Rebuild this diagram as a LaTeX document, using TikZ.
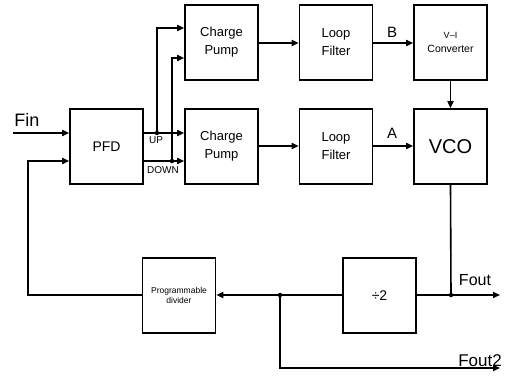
\documentclass[tikz,border=0pt]{standalone}
\usepackage{fontspec}
\setmainfont{Liberation Sans}
\usetikzlibrary{arrows.meta}
\tikzset{
  blk/.style={draw, line width=1.6pt, minimum width=73pt, minimum height=75pt, inner sep=0pt, align=center, font=\fontsize{13}{18}\selectfont},
  wire/.style={line width=1.6pt},
  arr/.style={wire, -{Triangle[length=7pt,width=6pt]}},
  dot/.style={circle, fill, inner sep=0pt, minimum size=4.5pt},
  lbl/.style={inner sep=0pt}
}
\begin{document}
\begin{tikzpicture}[x=1pt,y=-1pt]
\useasboundingbox (0,0) rectangle (517,382);
% blocks
\node[blk, font=\fontsize{14}{16}\selectfont] (pfd) at (106.5,146.5) {PFD};
\node[blk] (cpu) at (221.5,42.5) {Charge\\Pump};
\node[blk] (lfu) at (336,42.5) {Loop\\Filter};
\node[blk, font=\fontsize{10.5}{14}\selectfont] (vi)  at (450.5,42.5) {{\fontsize{9}{9}\selectfont V--I}\\Converter};
\node[blk] (cpl) at (221.5,146.5) {Charge\\Pump};
\node[blk] (lfl) at (336,146.5) {Loop\\Filter};
\node[blk, font=\fontsize{20}{22}\selectfont] (vco) at (450.5,146.5) {VCO};
\node[blk, font=\fontsize{14}{15}\selectfont] (div2) at (379.5,295.5) {÷2};
\node[blk, font=\fontsize{8.5}{10}\selectfont] (prog) at (179,295.5) {Programmable\\divider};
% coordinates
\coordinate (finL) at (13,133);
\coordinate (upy) at (0,133);
\coordinate (dny) at (0,161);
\coordinate (jup) at (157,133);
\coordinate (jdn) at (172,161);
\coordinate (cupy) at (0,28);
\coordinate (cdny) at (0,58);
\coordinate (cpy) at (0,43);
\coordinate (lpy) at (0,146);
\coordinate (jfout) at (451,295);
\coordinate (foutE) at (500,295);
\coordinate (jf2) at (280,295);
\coordinate (f2c) at (280,368);
\coordinate (f2E) at (500,368);
\coordinate (fbx) at (28,295);
\coordinate (fby) at (28,161);
% connectors
\draw[arr] (finL) -- (pfd.west |- finL);
\draw[arr] (pfd.east |- upy) -- (cpl.west |- upy);
\draw[arr] (pfd.east |- dny) -- (cpl.west |- dny);
\draw[arr] (jup) -- (jup |- cupy) -- (cpu.west |- cupy);
\draw[arr] (jdn) -- (jdn |- cdny) -- (cpu.west |- cdny);
\node[dot] at (jup) {};
\node[dot] at (jdn) {};
\draw[arr] (cpu.east |- cpy) -- (lfu.west |- cpy);
\draw[arr] (lfu.east |- cpy) -- (vi.west |- cpy);
\draw[arr] (cpl.east |- lpy) -- (lfl.west |- lpy);
\draw[arr] (lfl.east |- lpy) -- (vco.west |- lpy);
\draw[arr] (vi.south) -- (vco.north);
\draw[wire] (vco.south) -- (jfout);
\draw[arr] (jfout) -- (foutE);
\draw[wire] (jfout) -- (div2.east |- jfout);
\draw[wire] (div2.west |- jf2) -- (jf2);
\draw[arr] (jf2) -- (prog.east |- jf2);
\draw[arr] (jf2) -- (f2c) -- (f2E);
\node[dot] at (jfout) {};
\node[dot] at (jf2) {};
\draw[arr] (prog.west |- fbx) -- (fbx) -- (fby) -- (pfd.west |- fby);
% labels
\node[lbl, font=\fontsize{18}{18}\selectfont] (fin) at (27,120) {Fin};
\node[lbl, font=\fontsize{10}{10}\selectfont] (up) at (156,140) {UP};
\node[lbl, font=\fontsize{10}{10}\selectfont] (down) at (163,170) {DOWN};
\node[lbl, font=\fontsize{15}{15}\selectfont] (lb) at (392,32) {B};
\node[lbl, font=\fontsize{15}{15}\selectfont] (la) at (392,133) {A};
\node[lbl, font=\fontsize{16}{16}\selectfont] (fout) at (475,280) {Fout};
\node[lbl, font=\fontsize{17}{17}\selectfont, anchor=base] (fout2) at (480,366) {Fout2};
\end{tikzpicture}
\end{document}
